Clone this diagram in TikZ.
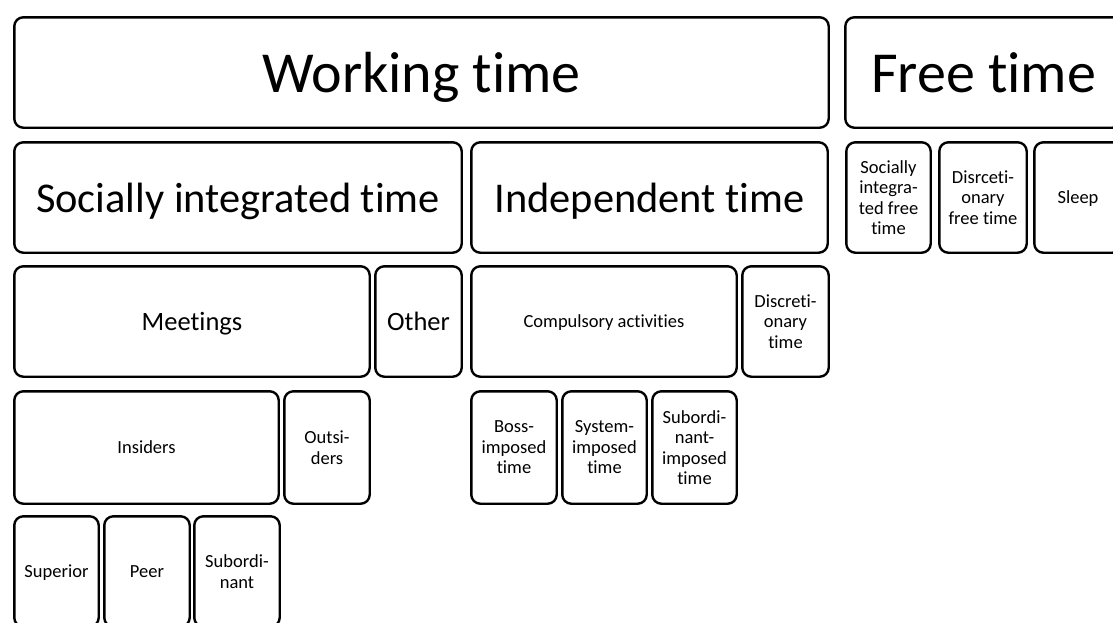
\documentclass[tikz,border=0pt]{standalone}
\usepackage{fontspec}
\setmainfont{Carlito}[RawFeature={-liga;-clig;-dlig;-calt}]
\begin{document}
\begin{tikzpicture}[x=1pt,y=-1pt,
  bx/.style={draw=black, line width=2.4pt, rounded corners=9pt, inner sep=0pt,
    minimum height=110.4pt, text=black},
  huge/.style={bx, font=\fontsize{58}{66}\selectfont, text depth=0pt},
  big/.style={bx, font=\fontsize{42.4}{50}\selectfont, text depth=0pt},
  mid/.style={bx, font=\fontsize{26.5}{31}\selectfont, text depth=0pt},
  sml/.style={bx, font=\fontsize{18.5}{20.5}\selectfont, text depth=0pt},
  multi/.style={bx, font=\fontsize{18.5}{20.5}\selectfont, align=center}]
\useasboundingbox (0,0) rectangle (1113,622);
\clip (0,0) rectangle (1113,622);
% top level
\node[huge, minimum width=814.4pt] (wt) at (421.5,72.5) {Working time};
\node[huge, minimum width=276.4pt] (ft) at (983.5,72.5) {Free time};
% second level
\node[big, minimum width=447.4pt] (sit) at (238,197.5) {Socially integrated time};
\node[big, minimum width=356.4pt] (it) at (649.5,197.5) {Independent time};
\node[multi, minimum width=84.4pt] (sift) at (888.5,197.5) {Socially\\integra-\\ted free\\time};
\node[multi, minimum width=87.4pt] (dft) at (983,197.5) {Disrceti-\\onary\\free time};
\node[sml, minimum width=87.4pt] (sl) at (1078,197.5) {Sleep};
% third level
\node[mid, minimum width=355.4pt] (mt) at (192,321.5) {Meetings};
\node[mid, minimum width=86.4pt] (ot) at (418.5,321.5) {Other};
\node[sml, minimum width=265.4pt] (ca) at (604,321.5) {Compulsory activities};
\node[multi, minimum width=86.4pt] (dt) at (785.5,321.5) {Discreti-\\onary\\time};
% fourth level
\node[sml, minimum width=264.4pt, minimum height=112.4pt] (in) at (146.5,447.5) {Insiders};
\node[multi, minimum width=85.4pt, minimum height=112.4pt] (os) at (327,447.5) {Outsi-\\ders};
\node[multi, minimum width=85.4pt, minimum height=112.4pt] (bi) at (514,447.5) {Boss-\\imposed\\time};
\node[multi, minimum width=84.4pt, minimum height=112.4pt] (si) at (604.5,447.5) {System-\\imposed\\time};
\node[multi, minimum width=84.4pt, minimum height=112.4pt] (sn) at (694.5,447.5) {Subordi-\\nant-\\imposed\\time};
% fifth level
\node[sml, minimum width=84.4pt] (su) at (56.5,571.5) {Superior};
\node[sml, minimum width=85.4pt] (pe) at (147,571.5) {Peer};
\node[multi, minimum width=85.4pt] (sb) at (237,571.5) {Subordi-\\nant};
\end{tikzpicture}
\end{document}
